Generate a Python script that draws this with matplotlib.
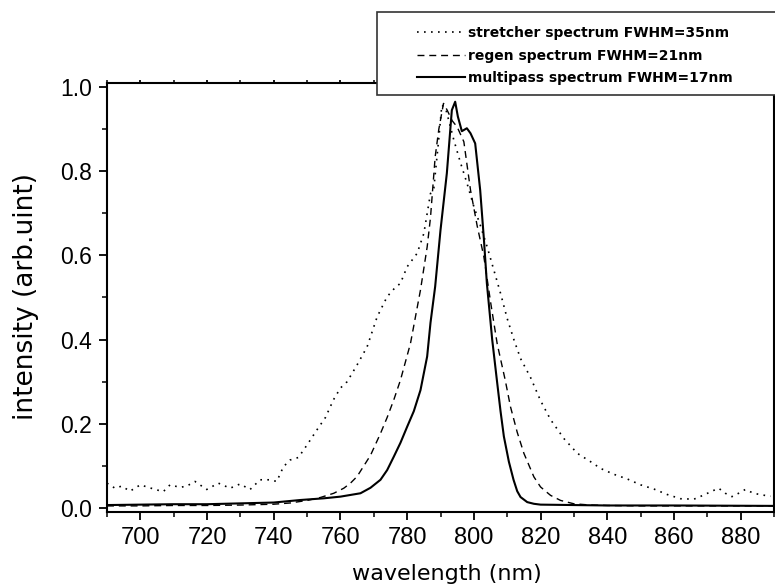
import matplotlib
matplotlib.use("Agg")
import matplotlib.pyplot as plt
from matplotlib.patches import Rectangle
from matplotlib.ticker import MultipleLocator

# stretcher spectrum (dotted)
wl_stretcher = [690, 692.4, 694.4, 696.9, 700, 702.4, 704.9, 706.9, 708.9, 711.9,
                713.9, 716.4, 719.9, 723.4, 726.9, 729.9, 732.9, 735.9, 738.9, 740.9,
                742.9, 744.9, 747.4, 750, 752.9, 755.5, 757.9, 760, 762, 765,
                768, 771, 774, 776, 778, 780, 783, 785, 787, 788,
                789.4, 790.4, 791.5, 792.5, 794, 796, 798, 800, 802, 804,
                806, 808, 810, 812, 814, 817, 820, 823, 827, 831,
                835, 838, 842, 846, 850, 854, 858, 862, 866, 869,
                871.4, 873.4, 875.4, 877.4, 879.4, 881.4, 883.9, 886.4, 889]
int_stretcher = [0.059, 0.047, 0.052, 0.040, 0.055, 0.049, 0.043, 0.039, 0.055, 0.049,
                 0.052, 0.063, 0.044, 0.059, 0.047, 0.057, 0.044, 0.067, 0.067, 0.063,
                 0.098, 0.114, 0.120, 0.150, 0.185, 0.215, 0.257, 0.285, 0.300, 0.34,
                 0.383, 0.454, 0.502, 0.52, 0.534, 0.573, 0.605, 0.652, 0.747, 0.76,
                 0.87, 0.957, 0.95, 0.92, 0.874, 0.82, 0.77, 0.716, 0.67, 0.62,
                 0.565, 0.51, 0.45, 0.40, 0.355, 0.31, 0.255, 0.21, 0.165, 0.13,
                 0.11, 0.094, 0.08, 0.069, 0.055, 0.045, 0.032, 0.022, 0.021, 0.031,
                 0.040, 0.047, 0.035, 0.027, 0.035, 0.044, 0.035, 0.031, 0.028]

# regen spectrum (dashed)
wl_regen = [690, 700, 710, 720, 730, 740, 745, 750, 754, 758,
            761, 763, 765, 767, 769, 772, 774, 776, 778, 781,
            784, 786, 787, 788.4, 789.5, 790.9, 792, 793.5, 795, 797,
            799, 801, 803, 805, 807, 809.4, 811, 813, 815, 818,
            820, 823, 826, 830, 835, 840, 850, 860, 870, 880, 890]
int_regen = [0.005, 0.005, 0.006, 0.006, 0.007, 0.009, 0.012, 0.018, 0.025, 0.035,
             0.047, 0.059, 0.075, 0.10, 0.125, 0.177, 0.215, 0.257, 0.304, 0.391,
             0.518, 0.62, 0.69, 0.834, 0.9, 0.961, 0.945, 0.92, 0.905, 0.87,
             0.755, 0.67, 0.597, 0.49, 0.39, 0.304, 0.24, 0.18, 0.13, 0.074,
             0.05, 0.03, 0.018, 0.01, 0.007, 0.006, 0.005, 0.005, 0.005, 0.005, 0.005]

# multipass spectrum (solid)
wl_multipass = [690, 700, 710, 720, 730, 740, 748, 755, 760, 766,
                769, 772, 774, 776, 778, 780, 782, 784, 786, 787,
                788.4, 790, 791.9, 793.4, 794.4, 795.2, 796.4, 797.9, 799, 800.4,
                801.9, 803, 803.9, 805.5, 806.9, 808, 809, 810.5, 811.9, 813,
                814, 816, 818, 820, 830, 840, 860, 890]
int_multipass = [0.007, 0.008, 0.009, 0.009, 0.011, 0.013, 0.019, 0.023, 0.027, 0.035,
                 0.048, 0.067, 0.09, 0.122, 0.155, 0.193, 0.23, 0.28, 0.36, 0.44,
                 0.526, 0.66, 0.795, 0.945, 0.965, 0.93, 0.895, 0.902, 0.89, 0.866,
                 0.755, 0.64, 0.534, 0.40, 0.304, 0.23, 0.17, 0.11, 0.067, 0.04,
                 0.026, 0.014, 0.01, 0.008, 0.007, 0.006, 0.006, 0.005]

labels = ["stretcher spectrum FWHM=35nm",
          "regen spectrum FWHM=21nm",
          "multipass spectrum FWHM=17nm"]

W, H = 775, 588
fig = plt.figure(figsize=(W / 100, H / 100), dpi=100)
ax = fig.add_axes([107 / W, 1 - 512 / H, (774 - 107) / W, (512 - 82.7) / H])

l1, = ax.plot(wl_stretcher, int_stretcher, color="k", lw=1.2, linestyle=(0, (1, 3.2)))
l2, = ax.plot(wl_regen, int_regen, color="k", lw=1.0, linestyle=(0, (5, 3.5)))
l3, = ax.plot(wl_multipass, int_multipass, color="k", lw=1.5)

ax.set_xlim(690, 890)
ax.set_ylim(-0.0095, 1.0102)
ax.xaxis.set_major_locator(MultipleLocator(20))
ax.xaxis.set_minor_locator(MultipleLocator(10))
ax.yaxis.set_major_locator(MultipleLocator(0.2))
ax.yaxis.set_minor_locator(MultipleLocator(0.1))

for s in ax.spines.values():
    s.set_linewidth(1.5)
ax.tick_params(which="major", direction="out", length=6, width=1.3, pad=5)
ax.tick_params(which="minor", direction="out", length=3.5, width=1.1)
ax.tick_params(axis="x", which="both", top=True, labeltop=False)
ax.tick_params(axis="x", which="major", labelsize=17)
ax.tick_params(axis="y", which="major", labelsize=16.5)
# short inward marks on the top frame
for t in ax.xaxis.get_major_ticks() + ax.xaxis.get_minor_ticks():
    t.tick2line.set_marker(2)
    t.tick2line.set_markersize(2)

for t in ax.get_xticklabels() + ax.get_yticklabels():
    t.set_fontfamily("Liberation Sans")

fig.text(0.5 * (107 + 774) / W + 6 / W, 1 - 574 / H, "wavelength (nm)", ha="center",
         va="center", fontsize=16, family="DejaVu Sans")
fig.text(26 / W, 1 - 297 / H, "intensity (arb.uint)", ha="center", va="center",
         rotation=90, fontsize=19, family="DejaVu Sans")

# legend box running off the right edge
fig.patches.append(Rectangle((377 / W, 1 - 95 / H), 420 / W, 83 / H,
                             transform=fig.transFigure, fill=True, facecolor="white",
                             edgecolor="#333333", lw=1.2, zorder=5))
leg = fig.legend([l1, l2, l3], labels, loc="upper left",
                 bbox_to_anchor=(417 / W, 1 - 26 / H), bbox_transform=fig.transFigure,
                 frameon=False, borderpad=0, borderaxespad=0, handlelength=3.45,
                 handletextpad=0.25, labelspacing=0.62,
                 prop={"family": "DejaVu Sans", "weight": "bold", "size": 10})
leg.set_zorder(6)

fig.savefig("out.png", dpi=100)
